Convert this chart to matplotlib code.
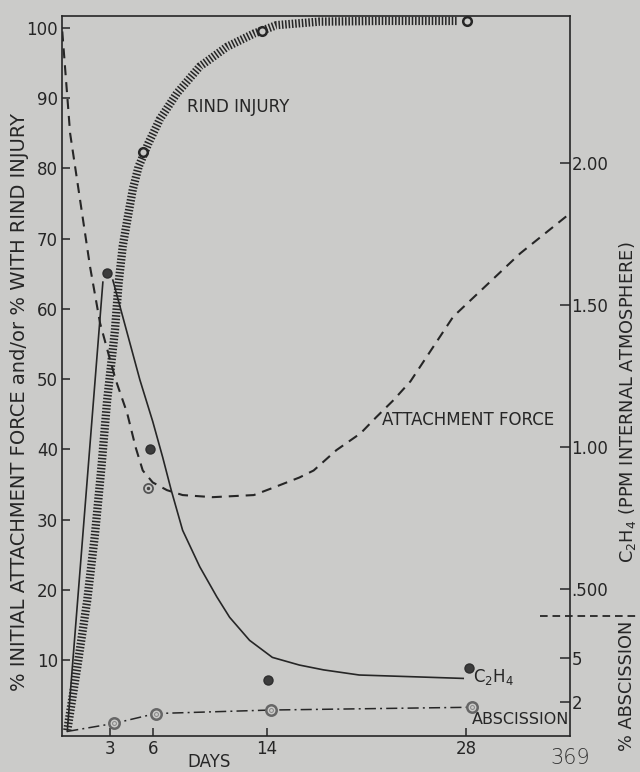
import matplotlib
matplotlib.use('Agg')
import matplotlib.pyplot as plt
from matplotlib.lines import Line2D

plt.rcParams['lines.scale_dashes'] = False
plt.rcParams['font.family'] = ['DejaVu Sans']

BG = '#cbcbc9'
INK = '#262626'

# left scale: % initial attachment force / % with rind injury
LEFT_LIM = (-0.8, 101.7)
DAY_LIM = (-0.37, 35.3)
day_ticks = [3, 6, 14, 28]
left_ticks = [10, 20, 30, 40, 50, 60, 70, 80, 90, 100]

# right scales (C2H4 ppm upper part, % abscission lower part)
ppm_ticks = [0.5, 1.0, 1.5, 2.0]
ppm_labels = ['.500', '1.00', '1.50', '2.00']
abs_ticks = [2, 5]
abs_labels = ['2', '5']

# rind injury (hatched band) and its observations
rind_days = [0, 0.7, 1.4, 1.95, 2.4, 2.8, 3.35, 3.6, 3.9, 4.2, 4.6, 5.0, 5.7, 6.5,
             7.7, 9.3, 11.2, 13.1, 14.7, 17.7, 22.0, 27.4]
rind_curve = [0, 9, 18.5, 28, 37.5, 47, 57, 63.6, 69, 72.5, 77, 80.2, 83.6, 87,
              90.7, 94.5, 97.3, 99.2, 100.4, 100.9, 101.0, 101.0]
rind_obs_days = [5.3, 13.7, 28.1]
rind_obs = [82.3, 99.6, 101.0]

# attachment force (dashed)
af_days = [-0.35, 0.2, 0.9, 1.6, 2.3, 3.0, 3.4, 4.2, 4.8, 5.3, 6.0, 7.0, 8.1, 10.2,
           13.1, 14.4, 16.3, 17.3, 18.9, 20.6, 21.7, 22.9, 24.1, 27.1, 31.8, 35.3]
af_curve = [99.5, 85, 75.5, 66, 58, 52.8, 49.9, 45.2, 40.3, 37, 35.3, 34.2, 33.5, 33.2,
            33.5, 34.5, 36, 37, 39.9, 42.3, 44.6, 47, 49.7, 58.9, 67.9, 73.6]
af_obs_days = [5.7]
af_obs = [34.5]

# C2H4 internal atmosphere, ppm
c2h4_up_days = [0, 2.5]
c2h4_up = [0, 1.58]
c2h4_down_days = [3.2, 5.1, 6.0, 6.7, 7.3, 8.1, 9.3, 10.5, 11.4, 12.8, 14.4, 16.3,
                  18.0, 20.5, 24.8, 27.8]
c2h4_down = [1.587, 1.236, 1.09, 0.964, 0.848, 0.707, 0.579, 0.473, 0.401, 0.320,
             0.260, 0.233, 0.216, 0.198, 0.191, 0.186]
c2h4_obs_days = [2.8, 5.8, 14.1, 28.2]
c2h4_obs = [1.612, 0.994, 0.179, 0.223]

# abscission, %
abs_days = [0, 3.3, 6.2, 14.3, 28.4]
abs_curve = [0, 0.55, 1.22, 1.46, 1.65]
abs_obs_days = [3.3, 6.2, 14.3, 28.4]
abs_obs = [0.55, 1.22, 1.46, 1.65]

fig = plt.figure(figsize=(6.4, 7.72), dpi=100)
fig.patch.set_facecolor(BG)
ax = fig.add_axes([62 / 640, 1 - 736 / 772, (570 - 62) / 640, (736 - 16) / 772])
ax.set_facecolor(BG)
ax.set_xlim(DAY_LIM)
ax.set_ylim(LEFT_LIM)

ax_ppm = ax.twinx()
ax_ppm.set_ylim([(v + 0.13) / 40.47 for v in LEFT_LIM])
ax_abs = ax.twinx()
ax_abs.set_ylim([(v + 0.15) / 2.087 for v in LEFT_LIM])

for a in (ax_ppm, ax_abs):
    for s in a.spines.values():
        s.set_visible(False)
for s in ax.spines.values():
    s.set_linewidth(1.2)
    s.set_color(INK)

# rind injury band
band, = ax.plot(rind_days, rind_curve, color=INK, lw=6.0, solid_capstyle='butt')
band.set_dashes((1.1, 1.3))
ax.plot(rind_obs_days, rind_obs, 'o', ms=6.2, mfc=BG, mec=INK, mew=1.8, clip_on=False, zorder=5)

# attachment force
af, = ax.plot(af_days, af_curve, color=INK, lw=1.5)
af.set_dashes((7.2, 5.0))
ax.plot(af_obs_days, af_obs, 'o', ms=6.5, mfc=BG, mec='#555555', mew=1.3, zorder=5)
ax.plot(af_obs_days, af_obs, '.', ms=3, color='#444444', zorder=6)

# C2H4
ax_ppm.plot(c2h4_up_days, c2h4_up, color=INK, lw=1.2)
ax_ppm.plot(c2h4_down_days, c2h4_down, color=INK, lw=1.2)
ax_ppm.plot(c2h4_obs_days, c2h4_obs, 'o', ms=6.5, color='#3c3c3c', mec='#2e2e2e', zorder=5)

# abscission
ab, = ax_abs.plot(abs_days, abs_curve, color=INK, lw=1.1)
ab.set_dashes((8.0, 3.0, 1.4, 3.0))
ax_abs.plot(abs_obs_days, abs_obs, 'o', ms=7.5, mfc=BG, mec='#666666', mew=1.8, zorder=5)
ax_abs.plot(abs_obs_days, abs_obs, 'o', ms=2.8, mfc=BG, mec='#888888', mew=0.7, zorder=6)

# ticks
ax.set_xticks(day_ticks)
ax.set_yticks(left_ticks)
ax.tick_params(axis='both', direction='in', length=6, width=1.1, color=INK,
               labelsize=12, labelcolor=INK)
ax.tick_params(axis='x', pad=3)
ax.tick_params(axis='y', pad=3)
ax_ppm.set_yticks(ppm_ticks)
ax_ppm.set_yticklabels(ppm_labels)
ax_abs.set_yticks(abs_ticks)
ax_abs.set_yticklabels(abs_labels)
for a in (ax_ppm, ax_abs):
    a.tick_params(axis='y', direction='in', length=7, width=1.1, color=INK,
                  labelsize=12, labelcolor=INK, pad=1)

# labels on the curves
ax.text(8.4, 88.7, 'RIND INJURY', fontsize=12, color=INK, va='center')
ax.text(22.1, 44.2, 'ATTACHMENT FORCE', fontsize=12, color=INK, va='center')
ax.text(28.5, 7.6, r'C$_2$H$_4$', fontsize=12, color=INK, va='center')
ax.text(28.4, 1.5, 'ABSCISSION', fontsize=11.5, color=INK, va='center')

fig.text(20 / 640, 1 - 402 / 772, '% INITIAL ATTACHMENT FORCE and/or % WITH RIND INJURY',
         rotation=90, fontsize=14, color=INK, ha='center', va='center')
fig.text(627 / 640, 1 - 402 / 772, r'C$_2$H$_4$ (PPM INTERNAL ATMOSPHERE)',
         rotation=90, fontsize=12.8, color=INK, ha='center', va='center')
fig.text(627 / 640, 1 - 621 / 772, '% ABSCISSION', rotation=90, fontsize=12.8,
         color=INK, ha='center', va='top')
fig.text(209 / 640, 1 - 762 / 772, 'DAYS', fontsize=12, color=INK, ha='center', va='center')
fig.text(570 / 640, 1 - 758 / 772, '369', fontsize=15, color='#333333', ha='center',
         va='center', fontweight='light')

sep = Line2D([540 / 640, 1.0], [1 - 616 / 772, 1 - 616 / 772], transform=fig.transFigure,
             color=INK, lw=1.3)
sep.set_dashes((5.5, 3.5))
fig.add_artist(sep)

fig.savefig('out.png', dpi=100, facecolor=BG)
